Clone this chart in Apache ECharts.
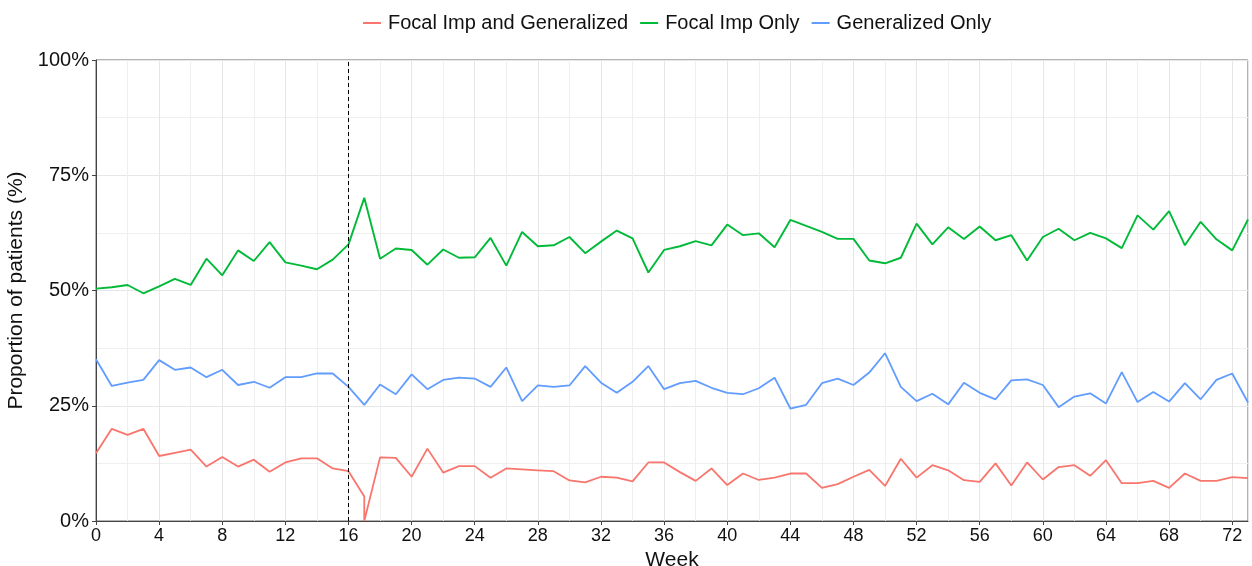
<!DOCTYPE html>
<html>
<head>
<meta charset="utf-8">
<script src="https://cdn.jsdelivr.net/npm/echarts@6/dist/echarts.min.js"></script>
<style>
html,body{margin:0;padding:0;background:#fff;}
#chart{width:1252px;height:566px;}
</style>
</head>
<body>
<div id="chart"></div>
<script>
const seriesNames = ['Focal Imp and Generalized', 'Focal Imp Only', 'Generalized Only'];
const weeks = [0,1,2,3,4,5,6,7,8,9,10,11,12,13,14,15,16,17,18,19,20,21,22,23,24,25,26,27,28,29,30,31,32,33,34,35,36,37,38,39,40,41,42,43,44,45,46,47,48,49,50,51,52,53,54,55,56,57,58,59,60,61,62,63,64,65,66,67,68,69,70,71,72,73];
// red series has two observations at week 17
const weeksRed = [0,1,2,3,4,5,6,7,8,9,10,11,12,13,14,15,16,17,17,18,19,20,21,22,23,24,25,26,27,28,29,30,31,32,33,34,35,36,37,38,39,40,41,42,43,44,45,46,47,48,49,50,51,52,53,54,55,56,57,58,59,60,61,62,63,64,65,66,67,68,69,70,71,72,73];
const focalAndGen = [14.7,20.0,18.7,20.0,14.1,14.8,15.5,11.8,13.9,11.8,13.3,10.7,12.7,13.6,13.6,11.4,10.8,5.3,0,13.8,13.7,9.6,15.7,10.5,11.9,11.9,9.4,11.4,11.2,11.0,10.8,8.8,8.4,9.6,9.4,8.6,12.7,12.7,10.6,8.7,11.4,7.8,10.3,8.9,9.4,10.3,10.3,7.2,8.0,9.6,11.1,7.6,13.5,9.4,12.1,11.0,8.85,8.5,12.5,7.7,12.7,9.0,11.7,12.1,9.8,13.2,8.2,8.2,8.7,7.2,10.3,8.7,8.7,9.5,9.3];
const focalOnly = [50.4,50.7,51.2,49.4,50.9,52.5,51.2,56.9,53.3,58.7,56.4,60.5,56.1,55.4,54.6,56.7,60.0,70.1,56.9,59.1,58.8,55.6,58.9,57.1,57.2,61.4,55.4,62.7,59.6,59.8,61.6,58.1,60.6,63.0,61.3,53.9,58.8,59.6,60.7,59.8,64.3,62.0,62.4,59.4,65.3,64.0,62.7,61.2,61.2,56.5,55.9,57.1,64.5,60.0,63.7,61.15,63.9,60.9,62.0,56.5,61.6,63.4,60.9,62.5,61.3,59.2,66.3,63.2,67.2,59.8,64.9,61.1,58.7,65.4];
const genOnly = [35.1,29.3,30.0,30.6,34.9,32.8,33.3,31.2,32.8,29.5,30.2,28.9,31.2,31.2,32.0,32.0,29.1,25.2,29.6,27.5,31.8,28.6,30.6,31.1,30.9,29.1,33.3,26.0,29.4,29.1,29.4,33.6,30.0,27.8,30.2,33.6,28.6,29.9,30.4,28.9,27.8,27.5,28.8,31.1,24.4,25.2,29.9,30.9,29.5,32.2,36.4,29.1,26.0,27.6,25.3,30.0,27.8,26.4,30.5,30.7,29.5,24.7,27.0,27.7,25.5,32.3,25.8,28.0,25.9,29.9,26.4,30.6,32.0,25.7];
const yTicks = [0,25,50,75,100];
const cutoffWeek = 16;

const colors = ['#F8766D', '#00BA38', '#619CFF'];
const font = 'Liberation Sans, Arial, sans-serif';

function pairs(xs, ys){ return xs.map((x,i)=>[x, ys[i]]); }

const chart = echarts.init(document.getElementById('chart'), null, {renderer:'canvas'});
chart.setOption({
  animation:false,
  backgroundColor:'#fff',
  color: colors,
  legend:{
    top:8, left:358,
    icon:'rect', itemWidth:18, itemHeight:2, itemGap:12,
    textStyle:{fontFamily:font, fontSize:20, color:'#111', padding:[0,0,0,2]},
    data: seriesNames
  },
  grid:{left:96, right:4, top:60, bottom:45, outerBoundsMode:'none', containLabel:false,
        show:true, borderColor:'#666', borderWidth:1, backgroundColor:'transparent'},
  xAxis:{
    type:'value', min:0, max:73, interval:4,
    name:'Week', nameLocation:'middle', nameGap:26,
    nameTextStyle:{fontFamily:font, fontSize:21, color:'#111'},
    axisLine:{show:true, onZero:false, lineStyle:{color:'#444'}},
    axisTick:{show:true, length:4, lineStyle:{color:'#444'}},
    axisLabel:{fontFamily:font, fontSize:18, color:'#111', margin:6, showMaxLabel:false},
    splitLine:{show:true, lineStyle:{color:'#e6e6e6', width:1}},
    minorTick:{show:false, splitNumber:2},
    minorSplitLine:{show:true, lineStyle:{color:'#efefef', width:1}}
  },
  yAxis:{
    type:'value', min:0, max:100, interval:25,
    name:'Proportion of patients (%)', nameLocation:'middle', nameGap:64,
    nameTextStyle:{fontFamily:font, fontSize:21, color:'#111'},
    axisLine:{show:true, lineStyle:{color:'#444'}},
    axisTick:{show:true, length:4, lineStyle:{color:'#444'}},
    axisLabel:{fontFamily:font, fontSize:20, color:'#111', margin:7, formatter: v => yTicks.includes(v) ? v + '%' : ''},
    splitLine:{show:true, lineStyle:{color:'#e6e6e6', width:1}},
    minorTick:{show:false, splitNumber:2},
    minorSplitLine:{show:true, lineStyle:{color:'#efefef', width:1}}
  },
  series:[
    {name:seriesNames[0], type:'line', data:pairs(weeksRed, focalAndGen), showSymbol:false, symbol:'none', lineStyle:{width:1.8}, z:3,
     markLine:{silent:true, symbol:'none', label:{show:false}, lineStyle:{color:'#000', type:[4,3], width:1}, data:[{xAxis:cutoffWeek}]}},
    {name:seriesNames[1], type:'line', data:pairs(weeks, focalOnly), showSymbol:false, symbol:'none', lineStyle:{width:1.9}, z:3},
    {name:seriesNames[2], type:'line', data:pairs(weeks, genOnly), showSymbol:false, symbol:'none', lineStyle:{width:1.8}, z:3}
  ]
});
</script>
</body>
</html>
